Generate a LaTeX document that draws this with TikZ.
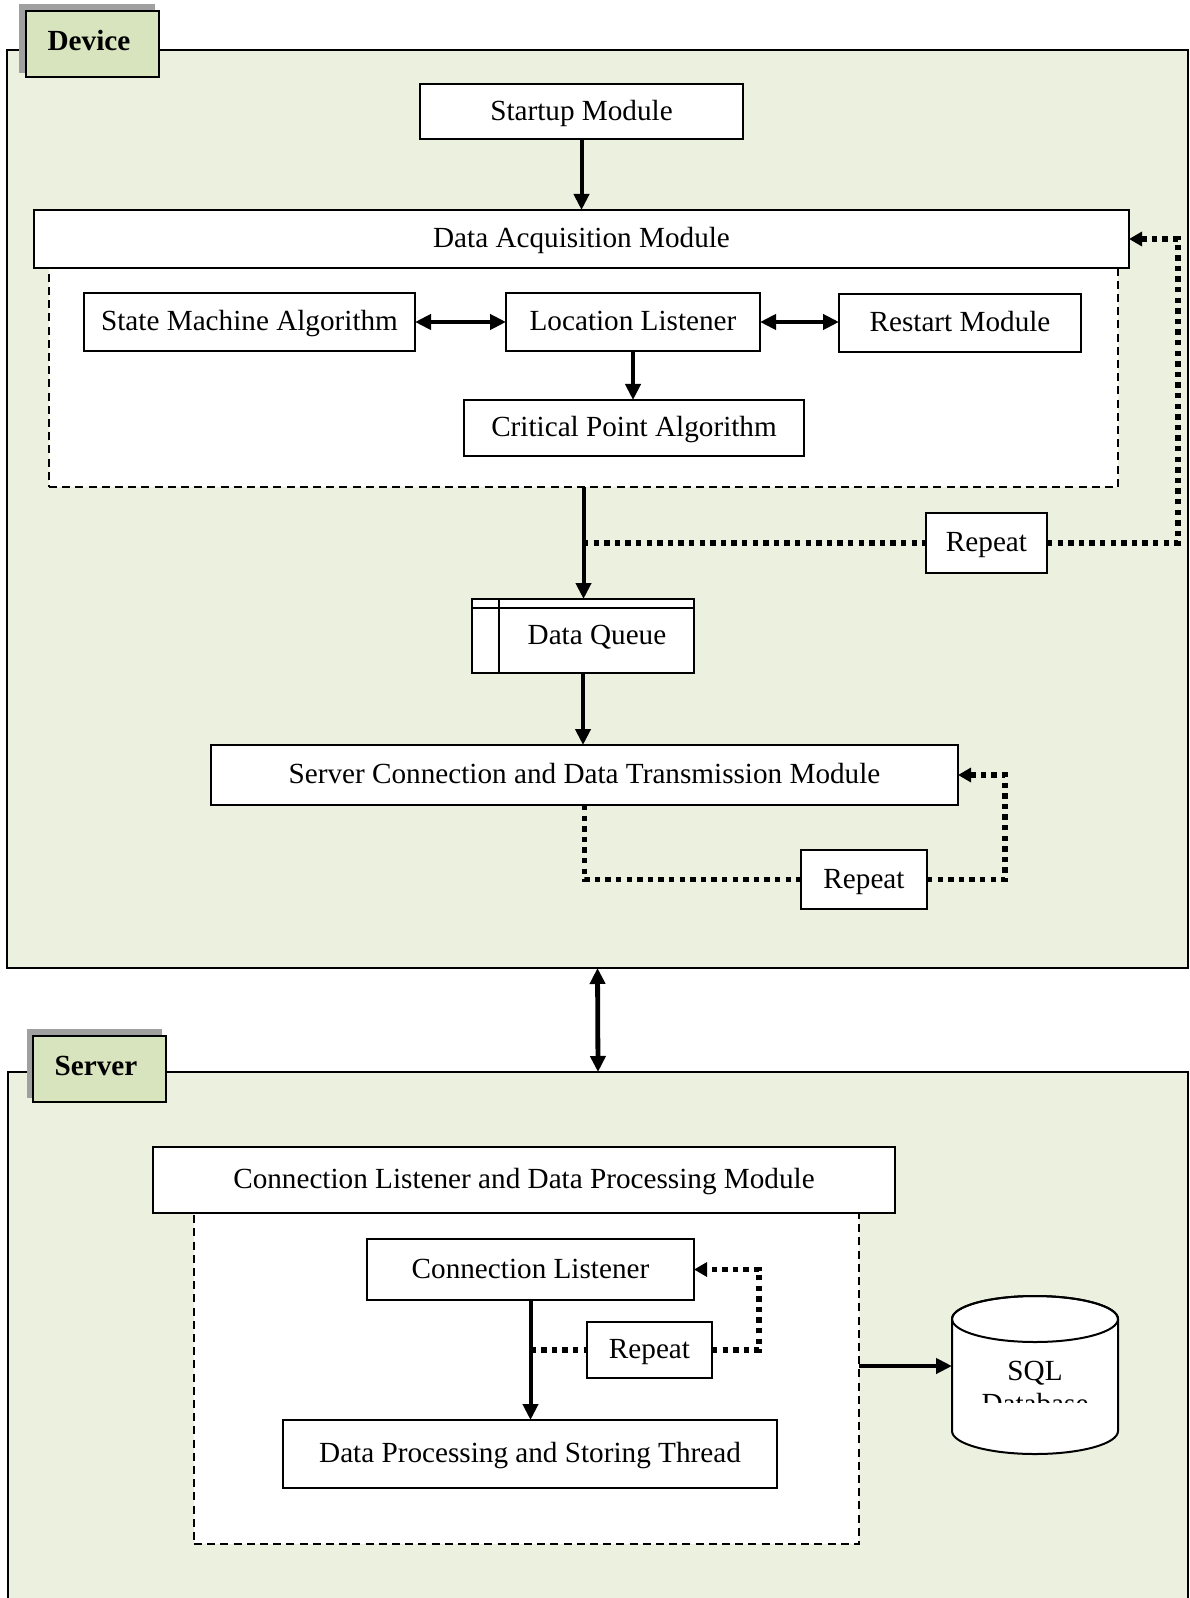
\documentclass[tikz,border=0pt]{standalone}
\usepackage{fontspec}
\setmainfont{Liberation Serif}
\usetikzlibrary{arrows.meta,calc}

\definecolor{panel}{HTML}{EBF1DE}
\definecolor{tabfill}{HTML}{D7E4BD}
\definecolor{tabshadow}{HTML}{A0A0A0}

\begin{document}
\begin{tikzpicture}[x=0.5pt,y=-0.5pt,
  every node/.style={font=\fontsize{14.6}{17}\selectfont, inner sep=0pt, outer sep=0pt},
  box/.style={draw, line width=1pt, fill=white, rectangle, text height=10.8pt, text depth=2pt},
  area/.style={draw, line width=0.8pt, fill=white, dash pattern=on 4pt off 2.6pt, rectangle},
  panelbox/.style={draw, line width=1pt, fill=panel, rectangle},
  tabbox/.style={draw, line width=1pt, fill=tabfill},
  flow/.style={line width=2pt, -{Triangle[length=8pt,width=7.5pt]}},
  biflow/.style={line width=2pt, {Triangle[length=8pt,width=7.5pt]}-{Triangle[length=8pt,width=7.5pt]}},
  loopline/.style={line width=2.7pt, dash pattern=on 2.7pt off 2.6pt},
  loop/.style={loopline, -{Triangle[length=6.5pt,width=7pt]}}]

\useasboundingbox (0,0) rectangle (1189,1598);

% ---------------- Device panel ----------------
\node[panelbox, minimum width=590.5pt, minimum height=459pt] (device) at (597.5,509) {};
\fill[tabshadow] (19,4) rectangle (155,73);
\draw[tabbox] (26,11) rectangle (159,77);
\node[font=\fontsize{14.6}{17}\selectfont\bfseries] (devlabel) at (89,41) {Device};

% dashed area under the acquisition module
\node[area, minimum width=534.5pt, minimum height=109.5pt] (acqarea) at (583.5,377.5) {};

\node[box, minimum width=161.5pt, minimum height=27.5pt] (startup) at (581.5,111.5) {Startup Module};
\node[box, minimum width=547.5pt, minimum height=29pt] (acq) at (581.5,239) {Data Acquisition Module};
\node[box, minimum width=165.5pt, minimum height=29pt] (sma) at (249.5,322) {State Machine Algorithm};
\node[box, minimum width=127pt, minimum height=29pt] (loc) at (633,322) {Location Listener};
\node[box, minimum width=121pt, minimum height=29pt] (restart) at (960,323) {Restart Module};
\node[box, minimum width=170pt, minimum height=28pt] (crit) at (634,428) {Critical Point Algorithm};
\node[box, minimum width=60.5pt, minimum height=30pt] (rep1) at (986.5,543) {Repeat};

% queue with its header strip and side column
\node[box, minimum width=111pt, minimum height=37pt] (queue) at (583,636) {\hspace*{14pt}Data Queue};
\draw[line width=0.8pt] ($(queue.north west)+(0,9)$) -- ($(queue.north east)+(0,9)$);
\draw[line width=0.8pt] ($(queue.north west)+(27,0)$) -- ($(queue.south west)+(27,0)$);

\node[box, minimum width=373.5pt, minimum height=30pt] (srv) at (584.5,775) {Server Connection and Data Transmission Module};
\node[box, minimum width=63pt, minimum height=29.5pt] (rep2) at (864,879.5) {Repeat};

\coordinate (j1) at (583,543);
\coordinate (c1) at (1178,239);
\coordinate (c2) at (1005,775);

\draw[flow] (startup.south) -- (startup.south |- acq.north);
\draw[biflow] (sma.east) -- (sma.east -| loc.west);
\draw[biflow] (loc.east) -- (loc.east -| restart.west);
\draw[flow] (loc.south) -- (loc.south |- crit.north);
\draw[flow] (acqarea.south) -- (acqarea.south |- queue.north);
\draw[loopline] (j1) -- (rep1.west);
\draw[loop] (rep1.east) -| (c1) -- (acq.east);
\draw[flow] (queue.south) -- (queue.south |- srv.north);
\draw[loopline] (srv.south) |- (rep2.west);
\draw[loop] (rep2.east) -| (c2) -- (srv.east);

% ---------------- Server panel ----------------
\node[fill=panel, minimum width=590pt, minimum height=264pt] (server) at (598,1336) {};
\draw[line width=1pt] (server.south west) -- (server.north west) -- (server.north east) -- (server.south east);
\fill[tabshadow] (27,1029) rectangle (162,1098);
\draw[tabbox] (33,1036) rectangle (166,1102);
\node[font=\fontsize{14.6}{17}\selectfont\bfseries] (srvlabel) at (96,1066) {Server};

\draw[biflow, line width=2.4pt] (device.south) -- (server.north);

\node[area, minimum width=332.5pt, minimum height=165.5pt] (procarea) at (526.5,1378.5) {};
\node[box, minimum width=371pt, minimum height=33pt] (clpm) at (524,1180) {Connection Listener and Data Processing Module};
\node[box, minimum width=163.5pt, minimum height=30.5pt] (cl) at (530.5,1269.5) {Connection Listener};
\node[box, minimum width=62.5pt, minimum height=28pt] (rep3) at (649.5,1350) {Repeat};
\node[box, minimum width=247pt, minimum height=34pt] (dpst) at (530,1454) {Data Processing and Storing Thread};

\coordinate (c3) at (759,1269.5);
\draw[flow] (cl.south) -- (cl.south |- dpst.north);
\draw[loopline] (cl.south |- rep3.west) -- (rep3.west);
\draw[loop] (rep3.east) -| (c3) -- (cl.east);

% database cylinder
\draw[line width=1pt, fill=white] (952,1319) -- (952,1431) arc[start angle=180, end angle=360, x radius=41.5pt, y radius=11.5pt] -- (1118,1319) arc[start angle=0, end angle=180, x radius=41.5pt, y radius=11.5pt] -- cycle;
\draw[line width=1pt] (1035,1319) ellipse[x radius=41.5pt, y radius=11.5pt];
\begin{scope}
  \clip (952,1343) rectangle (1118,1402);
  \node[anchor=base] (sql) at (1035,1380) {SQL};
  \node[anchor=base] (dbname) at (1035,1413) {Database};
\end{scope}
\coordinate (dbin) at (952,1366);
\draw[flow] (procarea.east |- dbin) -- (dbin);

\end{tikzpicture}
\end{document}
